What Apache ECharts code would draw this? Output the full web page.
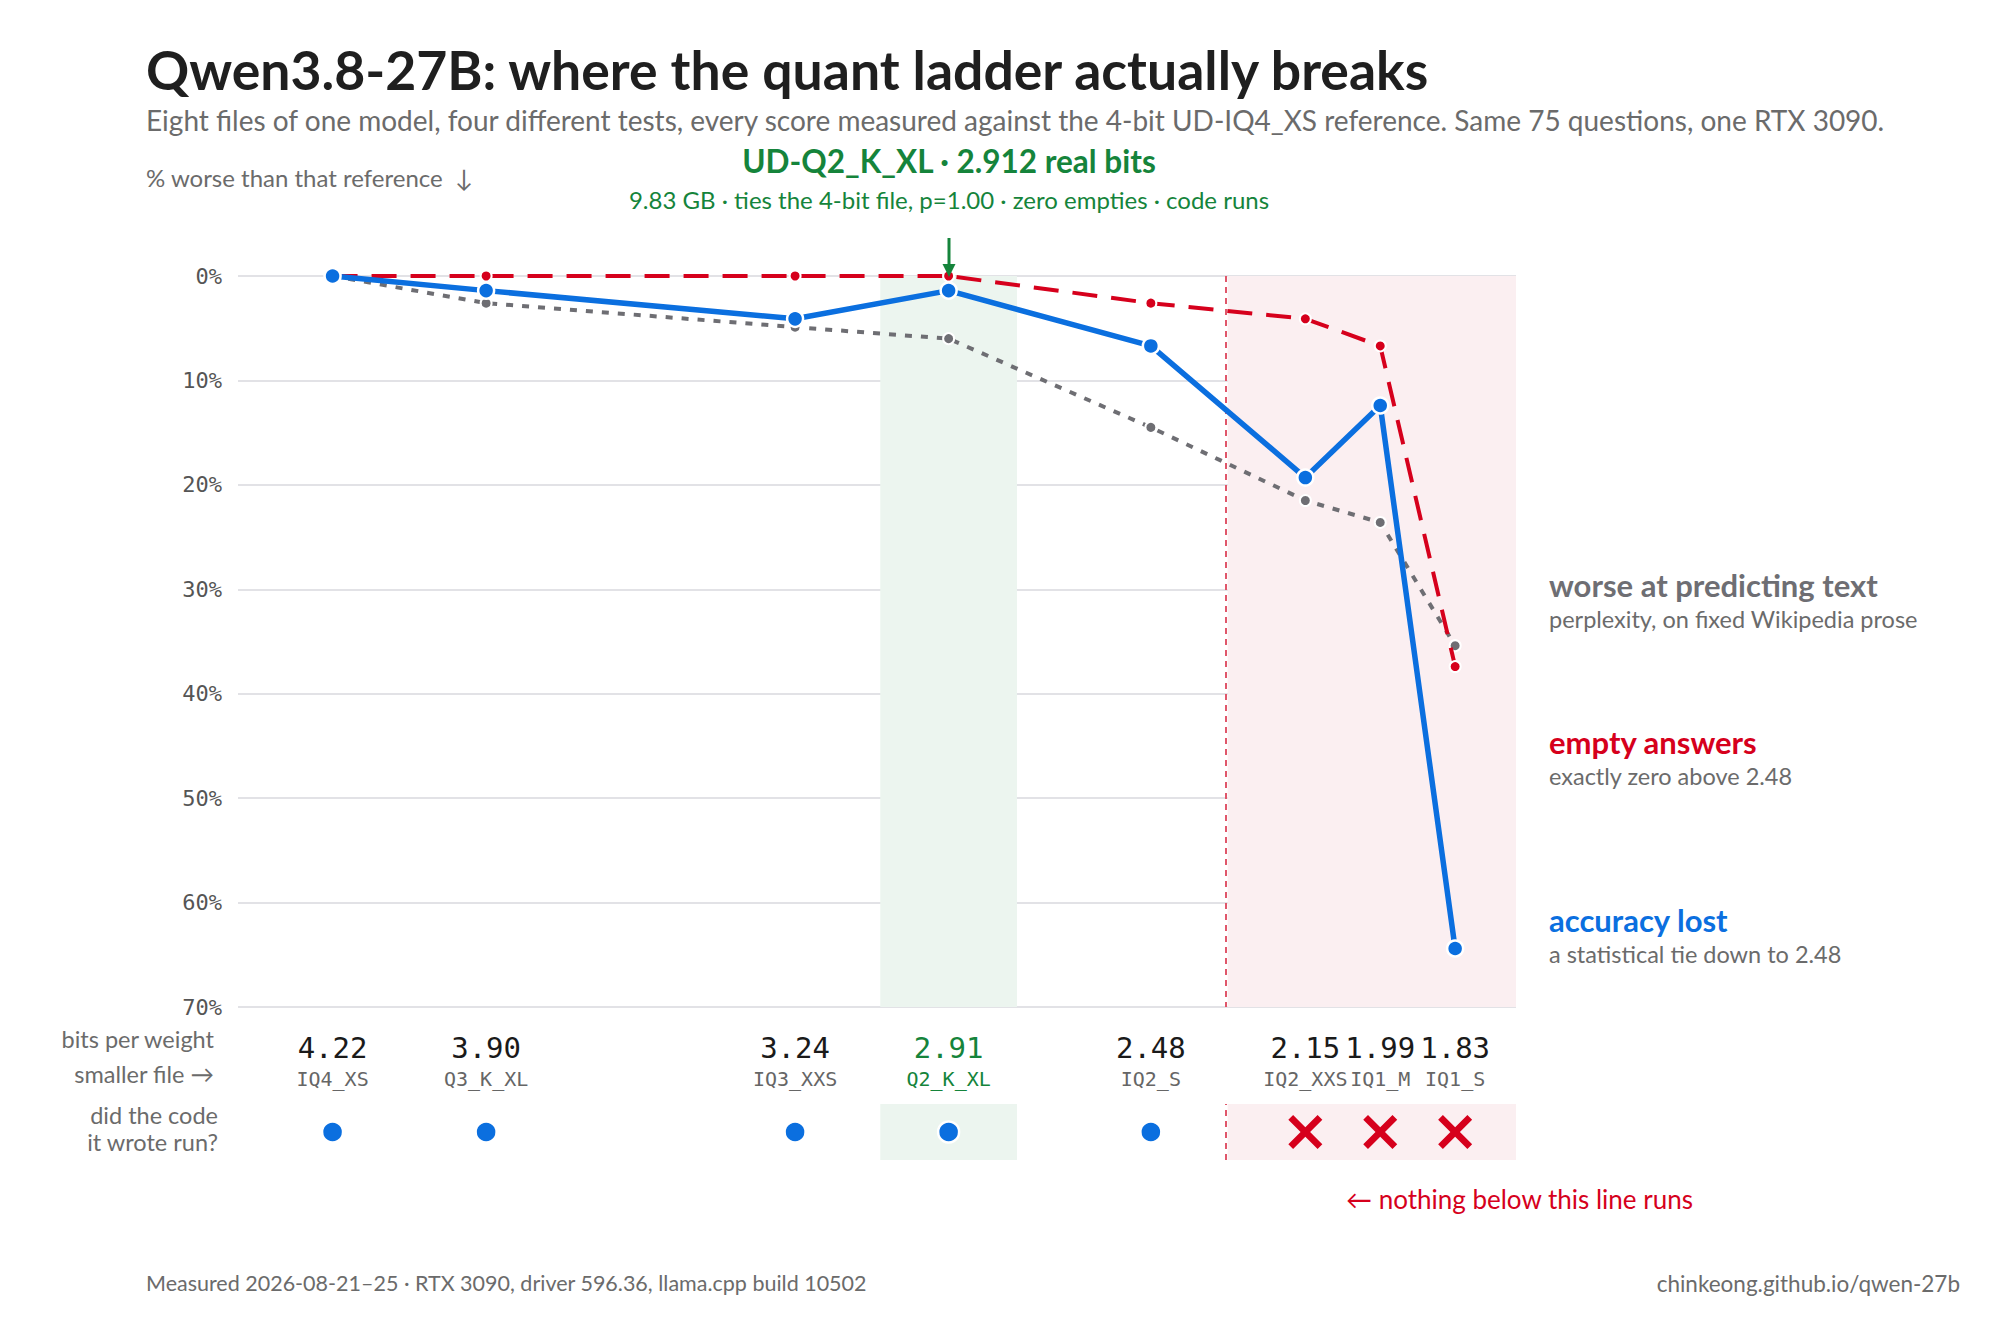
<!DOCTYPE html>
<html>
<head>
<meta charset="utf-8">
<script src="https://cdn.jsdelivr.net/npm/echarts@6/dist/echarts.min.js"></script>
<style>
  html, body { margin: 0; padding: 0; background: #fff; }
  #chart { width: 2016px; height: 1344px; }
</style>
</head>
<body>
<div id="chart"></div>
<script>
// bits per weight of each file (x position), the printed value, and the quant names under them
const bpw = [4.228, 3.90, 3.24, 2.912, 2.48, 2.15, 1.99, 1.83];
const bpwLabels = ['4.22', '3.90', '3.24', '2.91', '2.48', '2.15', '1.99', '1.83'];
const quantNames = ['IQ4_XS', 'Q3_K_XL', 'IQ3_XXS', 'Q2_K_XL', 'IQ2_S', 'IQ2_XXS', 'IQ1_M', 'IQ1_S'];

// % worse than the UD-IQ4_XS reference
const accuracyLost = [0, 1.4, 4.1, 1.4, 6.7, 19.3, 12.4, 64.4];
const emptyAnswers = [0, 0, 0, 0, 2.6, 4.1, 6.7, 37.4];
const perplexityWorse = [0, 2.6, 4.9, 6.0, 14.5, 21.5, 23.6, 35.4];

// did the code it wrote run?
const codeRuns = [true, true, true, true, true, false, false, false];

const pickedIndex = 3;      // UD-Q2_K_XL
const breakBits = 2.316;    // nothing below this line runs

const BLUE = '#0b6fdf';
const RED = '#d6001c';
const GRAY = '#6e6e73';
const GREEN = '#15843b';
const TEXT_GRAY = '#6b6b6b';
const SANS = 'Lato, "Noto Sans", sans-serif';
const MONO = '"DejaVu Sans Mono", monospace';

const xMin = 1.70, xMax = 4.43;

const zip = (xs, ys) => xs.map((x, i) => [x, ys[i]]);

const chart = echarts.init(document.getElementById('chart'), null, { renderer: 'svg' });

function txt(text, x, y, size, color, opts) {
  opts = opts || {};
  return {
    type: 'text', x: x, y: y, silent: true,
    style: {
      text: text, fill: color, fontSize: size,
      fontFamily: opts.family || SANS,
      fontWeight: opts.bold ? 'bold' : 'normal',
      textAlign: opts.align || 'left',
      textVerticalAlign: 'middle'
    }
  };
}

const bands = [
  [{ xAxis: 3.058, itemStyle: { color: '#ecf5ef' } }, { xAxis: 2.766 }],
  [{ xAxis: breakBits, itemStyle: { color: '#fbeff1' } }, { xAxis: xMin }]
];
const breakLine = {
  silent: true, symbol: 'none', label: { show: false },
  lineStyle: { color: '#e0566a', type: [6, 5], width: 2 },
  data: [{ xAxis: breakBits }]
};

const option = {
  backgroundColor: '#fff',
  animation: false,
  grid: [
    { left: 238, right: 500, top: 276, height: 731 },
    { left: 238, right: 500, top: 1104, height: 56 }
  ],
  xAxis: [
    {
      gridIndex: 0, type: 'value', inverse: true, min: xMin, max: xMax,
      axisLine: { show: false }, axisTick: { show: false }, splitLine: { show: false },
      axisLabel: {
        customValues: bpw,
        margin: 24,
        formatter: function (v) {
          let i = bpw.findIndex(b => Math.abs(b - v) < 1e-6);
          if (i < 0) return '';
          const s = i === pickedIndex ? 'g' : '';
          return '{v' + s + '|' + bpwLabels[i] + '}\n{n' + s + '|' + quantNames[i] + '}';
        },
        rich: {
          v: { fontFamily: MONO, fontSize: 29, color: '#1a1a1a', lineHeight: 33 },
          vg: { fontFamily: MONO, fontSize: 29, color: GREEN, lineHeight: 33 },
          n: { fontFamily: MONO, fontSize: 20, color: '#666', lineHeight: 29 },
          ng: { fontFamily: MONO, fontSize: 20, color: GREEN, lineHeight: 29 }
        }
      }
    },
    { gridIndex: 1, type: 'value', inverse: true, min: xMin, max: xMax, show: false }
  ],
  yAxis: [
    {
      gridIndex: 0, type: 'value', inverse: true, min: 0, max: 70, interval: 10,
      axisLine: { show: false }, axisTick: { show: false },
      axisLabel: { formatter: '{value}%', fontFamily: MONO, fontSize: 22, color: '#555', margin: 16 },
      splitLine: { lineStyle: { color: '#d9d9de', width: 1.5 } }
    },
    { gridIndex: 1, type: 'value', min: 0, max: 1, show: false }
  ],
  series: [
    // bands + break line in the main plot
    {
      type: 'line', xAxisIndex: 0, yAxisIndex: 0, z: 1, silent: true,
      data: zip(bpw, bpw.map(() => 0)), symbol: 'none', lineStyle: { opacity: 0 },
      markArea: { silent: true, data: bands },
      markLine: breakLine
    },
    {
      name: 'worse at predicting text', type: 'line', xAxisIndex: 0, yAxisIndex: 0, z: 3,
      data: zip(bpw, perplexityWorse),
      lineStyle: { color: GRAY, width: 4, type: [7, 9] },
      symbol: 'circle', symbolSize: 11,
      itemStyle: { color: GRAY, borderColor: '#fff', borderWidth: 2 }
    },
    {
      name: 'empty answers', type: 'line', xAxisIndex: 0, yAxisIndex: 0, z: 4,
      data: zip(bpw, emptyAnswers),
      lineStyle: { color: RED, width: 4, type: [25, 14] },
      symbol: 'circle', symbolSize: 11,
      itemStyle: { color: RED, borderColor: '#fff', borderWidth: 2 }
    },
    {
      name: 'accuracy lost', type: 'line', xAxisIndex: 0, yAxisIndex: 0, z: 5,
      data: zip(bpw, accuracyLost),
      lineStyle: { color: BLUE, width: 5.5 },
      symbol: 'circle', symbolSize: 16,
      itemStyle: { color: BLUE, borderColor: '#fff', borderWidth: 2.5 }
    },
    // bands + break line in the "did it run" row
    {
      type: 'scatter', xAxisIndex: 1, yAxisIndex: 1, z: 1, silent: true,
      data: [[xMin, 0.5]], symbolSize: 0,
      markArea: { silent: true, data: bands },
      markLine: breakLine
    },
    {
      name: 'runs', type: 'scatter', xAxisIndex: 1, yAxisIndex: 1, z: 5,
      data: bpw.filter((b, i) => codeRuns[i]).map(b => [b, 0.5]),
      symbol: 'circle', symbolSize: 21,
      itemStyle: { color: BLUE, borderColor: '#fff', borderWidth: 2.5, opacity: 1 }
    },
    {
      name: 'fails', type: 'scatter', xAxisIndex: 1, yAxisIndex: 1, z: 5,
      data: bpw.filter((b, i) => !codeRuns[i]).map(b => [b, 0.5]),
      symbol: 'path://M1.4,0 L5,3.6 L8.6,0 L10,1.4 L6.4,5 L10,8.6 L8.6,10 L5,6.4 L1.4,10 L0,8.6 L3.6,5 L0,1.4 Z',
      symbolSize: 34,
      itemStyle: { color: RED, opacity: 1 }
    }
  ],
  graphic: [
    txt('Qwen3.8-27B: where the quant ladder actually breaks', 146, 69, 53.5, '#1f1f1f', { bold: true }),
    txt('Eight files of one model, four different tests, every score measured against the 4-bit UD-IQ4_XS reference. Same 75 questions, one RTX 3090.', 146, 120, 28, TEXT_GRAY),
    txt('% worse than that reference  \u2193', 146, 177, 24, TEXT_GRAY),

    txt('worse at predicting text', 1549, 585, 31, GRAY, { bold: true }),
    txt('perplexity, on fixed Wikipedia prose', 1549, 619, 23.5, TEXT_GRAY),
    txt('empty answers', 1549, 742, 31, RED, { bold: true }),
    txt('exactly zero above 2.48', 1549, 776, 23.5, TEXT_GRAY),
    txt('accuracy lost', 1549, 920, 31, BLUE, { bold: true }),
    txt('a statistical tie down to 2.48', 1549, 954, 23.5, TEXT_GRAY),

    txt('bits per weight', 214, 1039, 23.5, TEXT_GRAY, { align: 'right' }),
    txt('smaller file \u2192', 214, 1074, 23.5, TEXT_GRAY, { align: 'right' }),
    txt('did the code', 218, 1115, 23.5, TEXT_GRAY, { align: 'right' }),
    txt('it wrote run?', 218, 1142, 23.5, TEXT_GRAY, { align: 'right' }),

    txt('\u2190 nothing below this line runs', 1346, 1199, 26, RED),

    txt('Measured 2026-08-21\u201325 \u00b7 RTX 3090, driver 596.36, llama.cpp build 10502', 146, 1283, 21.5, TEXT_GRAY),
    txt('chinkeong.github.io/qwen-27b', 1960, 1283, 22.5, TEXT_GRAY, { align: 'right' })
  ]
};

chart.setOption(option);

// green call-out for the picked file, centred on its x position
const p = chart.convertToPixel({ xAxisIndex: 0, yAxisIndex: 0 }, [bpw[pickedIndex], 0]);
const ax = Math.round(p[0]), ay = p[1];
chart.setOption({
  graphic: option.graphic.concat([
    txt('UD-Q2_K_XL \u00b7 2.912 real bits', ax, 161, 31.5, GREEN, { bold: true, align: 'center' }),
    txt('9.83 GB \u00b7 ties the 4-bit file, p=1.00 \u00b7 zero empties \u00b7 code runs', ax, 199, 24, GREEN, { align: 'center' }),
    {
      type: 'line', silent: true, z: 10,
      shape: { x1: ax, y1: 238, x2: ax, y2: ay - 10 },
      style: { stroke: GREEN, lineWidth: 3 }
    },
    {
      type: 'polygon', silent: true, z: 10,
      shape: { points: [[ax - 6.5, ay - 12], [ax + 6.5, ay - 12], [ax, ay + 1]] },
      style: { fill: GREEN }
    }
  ])
});
</script>
</body>
</html>
